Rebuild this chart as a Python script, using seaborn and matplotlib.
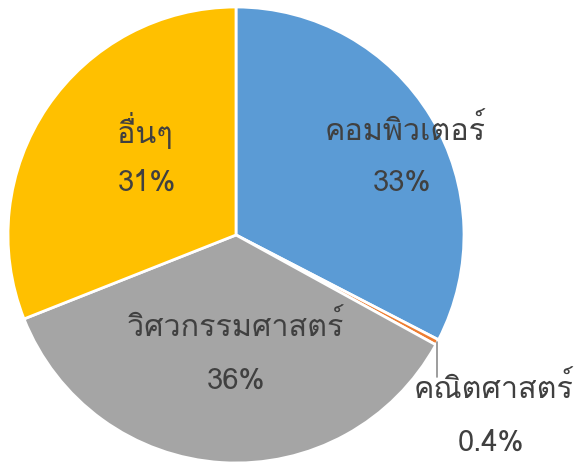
import matplotlib
matplotlib.use("Agg")
import matplotlib.pyplot as plt
from matplotlib import font_manager
import numpy as np
import seaborn as sns

# ข้อมูล
categories = ["คอมพิวเตอร์", "คณิตศาสตร์", "วิศวกรรมศาสตร์", "อื่นๆ"]
shares = [32.6, 0.4, 36.0, 31.0]
pct_labels = ["33%", "0.4%", "36%", "31%"]
colors = ["#5B9BD5", "#ED7D31", "#A5A5A5", "#FFC000"]

# ตำแหน่งป้าย (หน่วยรัศมี): ชื่อ, เปอร์เซ็นต์
label_pos = [(0.74, 0.46), (1.13, -0.67), (0.0, -0.40), (-0.40, 0.46)]
pct_pos = [(0.73, 0.23), (1.12, -0.91), (0.0, -0.64), (-0.39, 0.23)]


def find_thai_font():
    from fontTools.ttLib import TTFont
    seen = []
    for f in font_manager.fontManager.ttflist:
        try:
            tt = TTFont(f.fname, fontNumber=0, lazy=True)
            cmap = tt.getBestCmap() or {}
            if 0x0E04 in cmap and 0x0E13 in cmap:
                seen.append(f.name)
        except Exception:
            continue
    return seen


sns.set_style("white")
thai = find_thai_font()
plt.rcParams["font.family"] = (thai[:1] if thai else []) + ["DejaVu Sans"]

fig = plt.figure(figsize=(5.83, 4.62), dpi=100)
ax = fig.add_axes([8 / 583, -1 / 462, 456 / 583, 456 / 462])

wedges, _ = ax.pie(shares, colors=colors, startangle=90, counterclock=False,
                   radius=1.0, wedgeprops={"edgecolor": "white", "linewidth": 2})
ax.set_xlim(-1, 1)
ax.set_ylim(-1, 1)

for i in range(len(categories)):
    ax.text(*label_pos[i], categories[i], ha="center", va="center",
            fontsize=22, color="#404040")
    ax.text(*pct_pos[i], pct_labels[i], ha="center", va="center",
            fontsize=21, color="#404040")

# เส้นชี้ไปยังชิ้นเล็ก
w = wedges[1]
mid = np.deg2rad((w.theta1 + w.theta2) / 2)
x0, y0 = np.cos(mid), np.sin(mid)
ax.plot([x0, x0], [y0, y0 - 0.15], color="#8C8C8C", lw=1.2,
        clip_on=False, zorder=5)

ax.set_aspect("equal")
ax.axis("off")
fig.savefig("out.png", dpi=100)
